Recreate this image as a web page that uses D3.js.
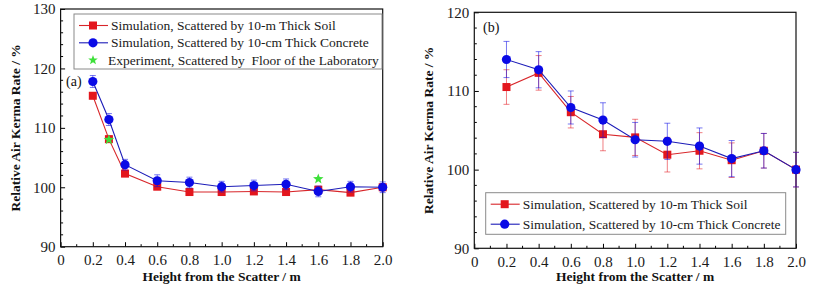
<!DOCTYPE html>
<html>
<head>
<meta charset="utf-8">
<script src="https://cdn.jsdelivr.net/npm/d3@7"></script>
<style>
  body { margin: 0; background: #fff; }
</style>
</head>
<body>
<svg id="chart" width="813" height="293"></svg>
<script>
// panel (a)
const heightsA = [0.2, 0.3, 0.4, 0.6, 0.8, 1.0, 1.2, 1.4, 1.6, 1.8, 2.0];
const soilA = [115.4, 108.1, 102.3, 100.1, 99.2, 99.2, 99.3, 99.2, 99.6, 99.1, 100.0];
const soilErrA = [0.5, 0.5, 0.5, 0.5, 0.5, 0.5, 0.5, 0.5, 0.5, 0.5, 0.5];
const concreteA = [117.8, 111.4, 103.8, 101.1, 100.8, 100.1, 100.3, 100.5, 99.3, 100.1, 100.0];
const concreteErrA = [1.0, 1.0, 0.9, 1.0, 0.9, 0.9, 0.9, 0.9, 0.9, 0.9, 0.9];
const expHeights = [0.3, 1.6];
const expValues = [108.0, 101.4];

// panel (b)
const heightsB = [0.2, 0.4, 0.6, 0.8, 1.0, 1.2, 1.4, 1.6, 1.8, 2.0];
const soilB = [110.5, 112.3, 107.3, 104.5, 104.1, 101.9, 102.4, 101.2, 102.4, 100.0];
const soilErrB = [2.2, 2.2, 2.0, 2.1, 2.3, 2.2, 2.3, 2.2, 2.2, 2.2];
const concreteB = [114.0, 112.7, 107.9, 106.3, 103.8, 103.6, 103.0, 101.4, 102.4, 100.0];
const concreteErrB = [2.3, 2.3, 2.1, 2.2, 2.2, 2.3, 2.3, 2.3, 2.2, 2.2];

const xTicks = [0, 0.2, 0.4, 0.6, 0.8, 1.0, 1.2, 1.4, 1.6, 1.8, 2.0];
const soilLabel = "Simulation, Scattered by 10-m Thick Soil";
const concreteLabel = "Simulation, Scattered by 10-cm Thick Concrete";
const expLabel = "Experiment, Scattered by  Floor of the Laboratory";

const FONT = "'Liberation Serif', 'Times New Roman', Times, serif";
const RED = "#e3161d", RED_LINE = "#d8262a";
const BLUE = "#0a0ae6", BLUE_LINE = "#1c1cb8";
const GREEN = "#3ee03a";

const svg = d3.select("#chart").style("font-family", FONT);
svg.append("rect").attr("width", 813).attr("height", 293).attr("fill", "#fff");

function star(cx, cy, r) {
  const pts = [];
  for (let i = 0; i < 10; i++) {
    const rr = i % 2 === 0 ? r : r * 0.42;
    const a = -Math.PI / 2 + i * Math.PI / 5;
    pts.push([cx + rr * Math.cos(a), cy + rr * Math.sin(a)]);
  }
  return "M" + pts.map(p => p.join(",")).join("L") + "Z";
}

function drawPanel(opt) {
  const x = d3.scaleLinear().domain([0, 2]).range(opt.xRange);
  const y = d3.scaleLinear().domain(opt.yDomain).range(opt.yRange);
  const g = svg.append("g");
  const [x0, x1] = opt.xRange;
  const [yb, yt] = opt.yRange;

  // minor ticks
  g.append("g").selectAll("line")
    .data(d3.range(1, 20, 2).map(d => d / 10))
    .enter().append("line")
    .attr("x1", d => x(d)).attr("x2", d => x(d))
    .attr("y1", yb).attr("y2", yb - 2.5)
    .attr("stroke", "#000");
  g.append("g").selectAll("line")
    .data(opt.yMinor)
    .enter().append("line")
    .attr("x1", x0).attr("x2", x0 + 2.5)
    .attr("y1", d => y(d)).attr("y2", d => y(d))
    .attr("stroke", "#000");

  // major ticks via axes
  const xAxis = g.append("g").attr("transform", `translate(0,${yb})`)
    .call(d3.axisBottom(x).tickValues(xTicks).tickSizeInner(-4.5).tickSizeOuter(0)
      .tickPadding(8).tickFormat(d => d === 0 ? "0" : d3.format(".1f")(d)));
  const yAxis = g.append("g").attr("transform", `translate(${x0},0)`)
    .call(d3.axisLeft(y).tickValues(opt.yTicks).tickSizeInner(-4.5).tickSizeOuter(0)
      .tickPadding(5).tickFormat(d3.format("d")));
  [xAxis, yAxis].forEach(a => {
    a.attr("font-family", FONT).attr("font-size", 15);
    a.select(".domain").remove();
    a.selectAll("text").attr("fill", "#1a1a1a");
    a.selectAll("line").attr("stroke", "#000");
  });

  // frame
  g.append("rect")
    .attr("x", x0).attr("y", yt)
    .attr("width", x1 - x0).attr("height", yb - yt)
    .attr("fill", "none").attr("stroke", "#111").attr("stroke-width", 1.2);

  // titles
  g.append("text")
    .attr("x", (x0 + x1) / 2).attr("y", 281)
    .attr("text-anchor", "middle").attr("fill", "#111")
    .attr("font-family", FONT).attr("font-size", 13.5).attr("font-weight", "bold")
    .text("Height from the Scatter / m");
  g.append("text")
    .attr("transform", `translate(${opt.yTitleX},${(yb + yt) / 2}) rotate(-90)`)
    .attr("text-anchor", "middle").attr("fill", "#111")
    .attr("font-family", FONT).attr("font-size", 13.5).attr("font-weight", "bold")
    .text("Relative Air Kerma Rate / %");
  g.append("text")
    .attr("x", opt.tag[0]).attr("y", opt.tag[1])
    .attr("font-family", FONT).attr("font-size", 14).attr("fill", "#111")
    .text(opt.tag[2]);

  const line = d3.line().x(d => x(d[0])).y(d => y(d[1]));

  opt.series.forEach(s => {
    const pts = s.xs.map((h, i) => [h, s.ys[i], s.err[i]]);
    const sg = g.append("g");
    // error bars
    const eb = sg.append("g").attr("stroke", s.color).attr("stroke-opacity", 0.55).attr("stroke-width", 1);
    eb.selectAll(".v").data(pts).enter().append("line")
      .attr("x1", d => x(d[0])).attr("x2", d => x(d[0]))
      .attr("y1", d => y(d[1] - d[2])).attr("y2", d => y(d[1] + d[2]));
    [-1, 1].forEach(sign => {
      eb.selectAll(".c" + sign).data(pts).enter().append("line")
        .attr("x1", d => x(d[0]) - 3).attr("x2", d => x(d[0]) + 3)
        .attr("y1", d => y(d[1] + sign * d[2])).attr("y2", d => y(d[1] + sign * d[2]));
    });
    sg.append("path").datum(pts).attr("d", line)
      .attr("fill", "none").attr("stroke", s.lineColor).attr("stroke-width", 1.1);
    if (s.shape === "square") {
      sg.selectAll("rect").data(pts).enter().append("rect")
        .attr("x", d => x(d[0]) - 4).attr("y", d => y(d[1]) - 4)
        .attr("width", 8).attr("height", 8).attr("fill", s.color);
    } else {
      sg.selectAll("circle").data(pts).enter().append("circle")
        .attr("cx", d => x(d[0])).attr("cy", d => y(d[1])).attr("r", 4.6)
        .attr("fill", s.color);
    }
  });

  if (opt.exp) {
    g.selectAll(".exp").data(opt.exp.xs.map((h, i) => [h, opt.exp.ys[i]]))
      .enter().append("path")
      .attr("d", d => star(x(d[0]), y(d[1]), 5.5))
      .attr("fill", GREEN);
  }

  // legend
  const L = opt.legend;
  const lg = g.append("g");
  lg.append("rect")
    .attr("x", L.x).attr("y", L.y).attr("width", L.w).attr("height", L.h)
    .attr("fill", "#fff").attr("stroke", "#8a8a8a").attr("stroke-width", 1);
  L.items.forEach((it, i) => {
    const cy = L.y + L.first + i * L.step;
    const mx = L.x + 19;
    if (it.shape !== "star") {
      lg.append("line").attr("x1", L.x + 5).attr("x2", L.x + 34)
        .attr("y1", cy).attr("y2", cy).attr("stroke", it.lineColor).attr("stroke-width", 1.1);
    }
    if (it.shape === "square") {
      lg.append("rect").attr("x", mx - 4).attr("y", cy - 4).attr("width", 8).attr("height", 8).attr("fill", it.color);
    } else if (it.shape === "circle") {
      lg.append("circle").attr("cx", mx).attr("cy", cy).attr("r", 4.6).attr("fill", it.color);
    } else {
      lg.append("path").attr("d", star(mx, cy, 5)).attr("fill", it.color);
    }
    lg.append("text")
      .attr("x", L.x + (it.shape === "star" ? 34 : 37)).attr("y", cy + 4.5)
      .attr("font-family", FONT).attr("font-size", 13.5)
      .attr("xml:space", "preserve").style("white-space", "pre")
      .attr("fill", "#1a1a1a")
      .text(it.label);
  });
}

const soilItem = { shape: "square", color: RED, lineColor: RED_LINE, label: soilLabel };
const concreteItem = { shape: "circle", color: BLUE, lineColor: BLUE_LINE, label: concreteLabel };

drawPanel({
  xRange: [60.6, 382.7], yDomain: [90, 130], yRange: [246.7, 9],
  yTicks: [90, 100, 110, 120, 130], yMinor: [92, 94, 96, 98, 102, 104, 106, 108, 112, 114, 116, 118, 122, 124, 126, 128],
  yTitleX: 20, tag: [66, 86, "(a)"],
  series: [
    { xs: heightsA, ys: soilA, err: soilErrA, shape: "square", color: RED, lineColor: RED_LINE },
    { xs: heightsA, ys: concreteA, err: concreteErrA, shape: "circle", color: BLUE, lineColor: BLUE_LINE }
  ],
  exp: { xs: expHeights, ys: expValues },
  legend: { x: 74, y: 14, w: 308, h: 55, first: 11.5, step: 17.3,
    items: [soilItem, concreteItem, { shape: "star", color: GREEN, label: expLabel }] }
});

drawPanel({
  xRange: [474.3, 796], yDomain: [90, 120], yRange: [248.3, 12.3],
  yTicks: [90, 100, 110, 120], yMinor: [92, 94, 96, 98, 102, 104, 106, 108, 112, 114, 116, 118],
  yTitleX: 433, tag: [483, 32, "(b)"],
  series: [
    { xs: heightsB, ys: soilB, err: soilErrB, shape: "square", color: RED, lineColor: RED_LINE },
    { xs: heightsB, ys: concreteB, err: concreteErrB, shape: "circle", color: BLUE, lineColor: BLUE_LINE }
  ],
  legend: { x: 485.7, y: 192.7, w: 300, h: 41.6, first: 11.5, step: 20,
    items: [soilItem, concreteItem] }
});
</script>
</body>
</html>
